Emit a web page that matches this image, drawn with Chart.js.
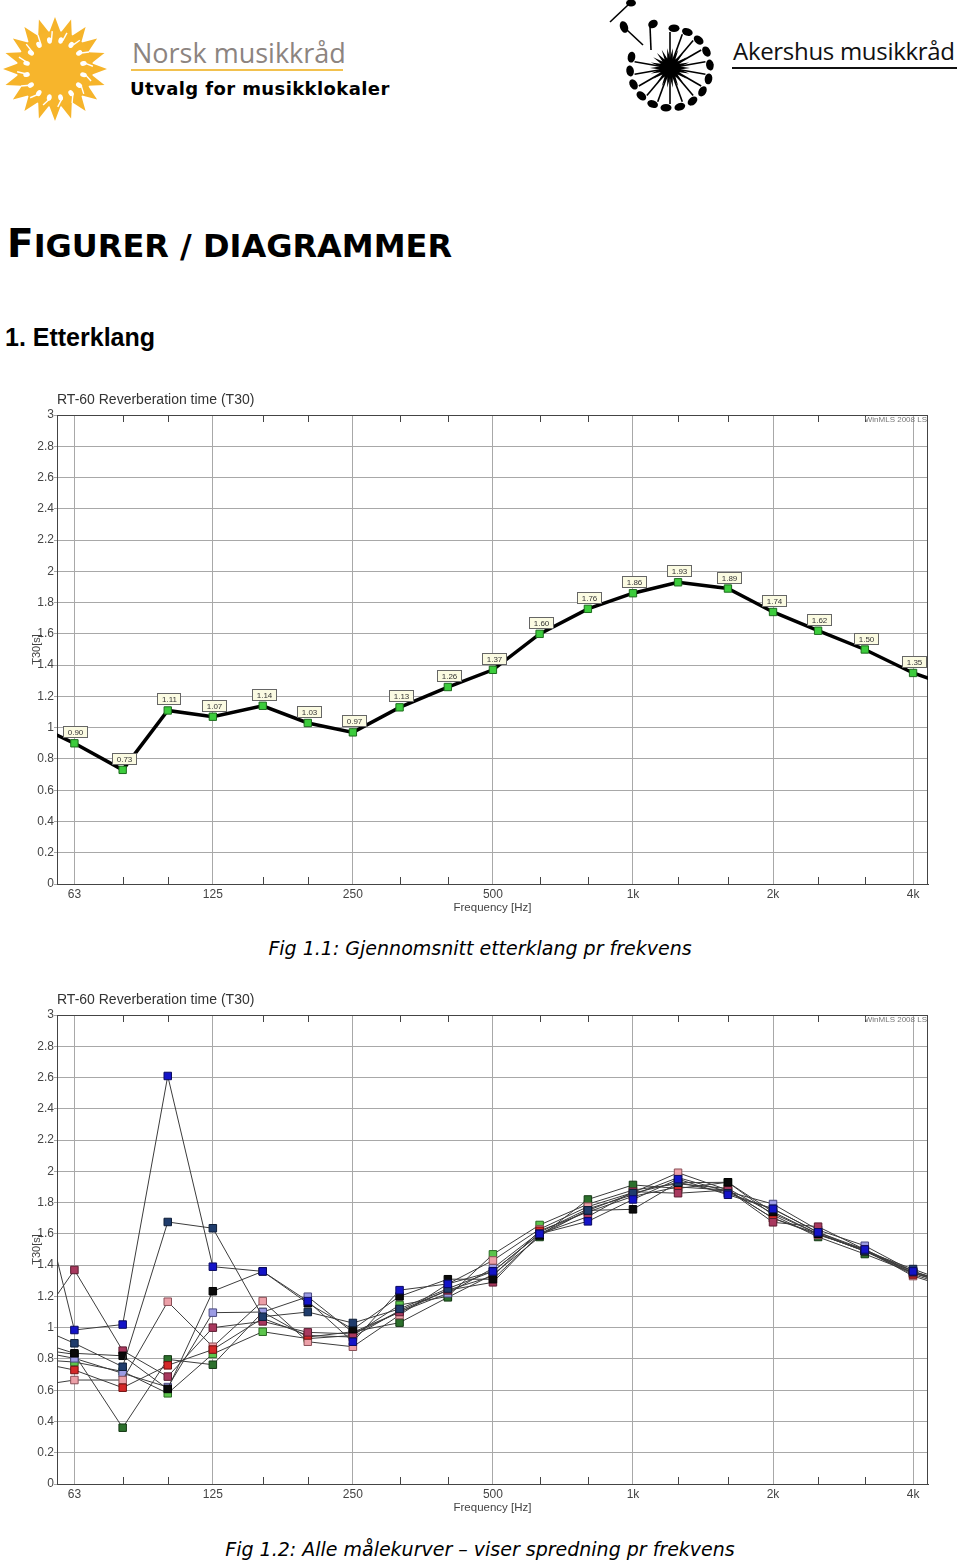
<!DOCTYPE html>
<html>
<head>
<meta charset="utf-8">
<script src="https://cdn.jsdelivr.net/npm/chart.js@4.4.1/dist/chart.umd.min.js"></script>
<style>
  html, body { margin: 0; padding: 0; background: #fff; }
  body { position: relative; width: 960px; height: 1560px; overflow: hidden; font-family: "Liberation Sans", Arial, sans-serif; }
  .abs { position: absolute; white-space: nowrap; }
  #nmr { left: 132px; top: 39px; font-family: "Open Sans", sans-serif; font-size: 27px; line-height: 27px; color: #8c8480; }
  #nmrLine { left: 131px; top: 69px; width: 212px; height: 2px; background: #f2c14e; }
  #utvalg { left: 130px; top: 80px; font-family: "DejaVu Sans", Verdana, sans-serif; font-weight: bold; font-size: 18px; line-height: 18px; letter-spacing: 0.4px; color: #000; }
  #amr { left: 733px; top: 38.7px; font-family: "Open Sans", sans-serif; font-size: 24px; line-height: 24px; letter-spacing: -0.3px; color: #111; }
  #amrLine { left: 732px; top: 67px; width: 225px; height: 2px; background: #111; }
  #heading { left: 7px; top: 224px; font-family: "DejaVu Sans", Verdana, sans-serif; font-weight: bold; font-size: 39px; line-height: 39px; color: #000; }
  #heading span { font-size: 32px; }
  #section { left: 5px; top: 325px; font-family: "Liberation Sans", Arial, sans-serif; font-weight: bold; font-size: 25px; line-height: 25px; color: #000; }
  .caption { left: 0; width: 960px; text-align: center; font-family: "DejaVu Sans", Verdana, sans-serif; font-style: italic; font-size: 19px; line-height: 19px; color: #000; }
  #cap1 { top: 939px; }
  #cap2 { top: 1540px; }
  canvas { position: absolute; left: 0; }
  #c1 { top: 385px; }
  #c2 { top: 985px; }
  svg { position: absolute; }
</style>
</head>
<body>
<svg id="sun" width="110" height="110" style="left:0;top:14px"></svg>
<div class="abs" id="nmr">Norsk musikkråd</div>
<div class="abs" id="nmrLine"></div>
<div class="abs" id="utvalg">Utvalg for musikklokaler</div>
<svg id="burst" width="120" height="112" style="left:605px;top:0"></svg>
<div class="abs" id="amr">Akershus musikkråd</div>
<div class="abs" id="amrLine"></div>

<div class="abs" id="heading">F<span>IGURER / DIAGRAMMER</span></div>
<div class="abs" id="section">1. Etterklang</div>

<canvas id="c1" width="960" height="540"></canvas>
<div class="abs caption" id="cap1">Fig 1.1: Gjennomsnitt etterklang pr frekvens</div>
<canvas id="c2" width="960" height="540"></canvas>
<div class="abs caption" id="cap2">Fig 1.2: Alle målekurver – viser spredning pr frekvens</div>

<script>
// 1/3-octave bands, 50 Hz and 5 kHz sit just outside the visible axis
const freqs = [50, 63, 80, 100, 125, 160, 200, 250, 315, 400, 500, 630, 800, 1000, 1250, 1600, 2000, 2500, 3150, 4000, 5000];
const octaveTicks = [63, 125, 250, 500, 1000, 2000, 4000];
const octaveLabels = ['63', '125', '250', '500', '1k', '2k', '4k'];

// Fig 1.1 average T30
const avgT30 = [1.04, 0.90, 0.73, 1.11, 1.07, 1.14, 1.03, 0.97, 1.13, 1.26, 1.37, 1.60, 1.76, 1.86, 1.93, 1.89, 1.74, 1.62, 1.50, 1.35, 1.25];

// Fig 1.2 individual measurements
const mBlue     = [2.20, 0.985, 1.02, 2.61, 1.39, 1.36, 1.17, 0.91, 1.24, 1.28, 1.36, 1.60, 1.68, 1.82, 1.95, 1.85, 1.76, 1.61, 1.50, 1.36, 1.26];
const mNavy     = [1.03, 0.90, 0.75, 1.676, 1.636, 1.07, 1.10, 1.03, 1.12, 1.25, 1.36, 1.60, 1.75, 1.86, 1.93, 1.86, 1.76, 1.61, 1.49, 1.375, 1.27];
const mBlack    = [0.93, 0.836, 0.82, 0.608, 1.233, 1.36, 1.156, 0.99, 1.20, 1.31, 1.31, 1.59, 1.75, 1.757, 1.927, 1.93, 1.74, 1.60, 1.49, 1.36, 1.27];
const mCrimson  = [0.94, 1.369, 0.853, 0.687, 1.00, 1.04, 0.97, 0.96, 1.10, 1.24, 1.29, 1.60, 1.71, 1.87, 1.86, 1.88, 1.674, 1.646, 1.50, 1.35, 1.27];
const mRed      = [0.79, 0.729, 0.616, 0.759, 0.86, 1.06, 0.95, 0.94, 1.11, 1.24, 1.33, 1.62, 1.74, 1.84, 1.90, 1.88, 1.70, 1.60, 1.49, 1.34, 1.25];
const mPink     = [0.62, 0.665, 0.665, 1.166, 0.878, 1.17, 0.91, 0.878, 1.081, 1.28, 1.43, 1.63, 1.774, 1.864, 1.991, 1.88, 1.70, 1.593, 1.50, 1.33, 1.24];
const mLavender = [0.86, 0.804, 0.708, 0.62, 1.096, 1.10, 1.198, 0.97, 1.10, 1.22, 1.38, 1.61, 1.76, 1.85, 1.96, 1.87, 1.791, 1.625, 1.524, 1.36, 1.27];
const mDkGreen  = [0.87, 0.83, 0.36, 0.797, 0.763, 1.10, 0.94, 0.974, 1.032, 1.194, 1.34, 1.58, 1.82, 1.913, 1.891, 1.93, 1.72, 1.58, 1.471, 1.35, 1.26];
const mLtGreen  = [0.80, 0.78, 0.72, 0.58, 0.832, 0.974, 0.93, 0.95, 1.145, 1.20, 1.469, 1.657, 1.79, 1.88, 1.92, 1.89, 1.73, 1.60, 1.49, 1.35, 1.26];

const seriesList = [mBlue, mNavy, mBlack, mCrimson, mRed, mPink, mLavender, mDkGreen, mLtGreen];
const seriesFill = ['#1414c8', '#1f3c6c', '#0a0a0a', '#a8385e', '#d42828', '#eca0a8', '#9c9ce4', '#2c702c', '#5cc44c'];
const seriesEdge = ['#0a0a60', '#0e1e38', '#000000', '#5a1c30', '#701010', '#8a5058', '#4a4a80', '#143814', '#2a6a22'];

// --- logos ---
function starPath(cx, cy, n, rOut, rIn, rot) {
  let d = '';
  for (let i = 0; i < 2 * n; i++) {
    const r = i % 2 ? rIn : rOut;
    const a = rot + i * Math.PI / n;
    d += (i ? 'L' : 'M') + (cx + r * Math.cos(a)).toFixed(1) + ' ' + (cy + r * Math.sin(a)).toFixed(1);
  }
  return d + 'Z';
}
(function drawLogos() {
  let s = '<path d="' + starPath(55, 55, 20, 52, 37, -Math.PI / 2) + '" fill="#f6b42a"/>';
  s += '<circle cx="55" cy="55" r="38" fill="#f7b52c"/>';
  for (let k = 0; k < 16; k++) {
    const a = k * Math.PI / 8 + 0.2;
    const hx = 55 + 29 * Math.cos(a), hy = 55 + 29 * Math.sin(a);
    const sx = 55 + 38 * Math.cos(a + 0.12), sy = 55 + 38 * Math.sin(a + 0.12);
    s += '<line x1="' + (hx + 2) + '" y1="' + hy + '" x2="' + sx + '" y2="' + sy + '" stroke="#fff" stroke-width="1.4"/>';
    s += '<ellipse cx="' + hx + '" cy="' + hy + '" rx="3.3" ry="2.4" fill="#fff" transform="rotate(' + (a * 180 / Math.PI) + ' ' + hx + ' ' + hy + ')"/>';
  }
  document.getElementById('sun').innerHTML = s;

  let b = '<path d="' + starPath(65, 68, 22, 20, 10, 0) + '" fill="#000"/>';
  for (let k = 0; k < 15; k++) {
    const a = (-90 + k * 20) * Math.PI / 180;
    const x1 = 65 + 10 * Math.cos(a), y1 = 68 + 10 * Math.sin(a);
    const x2 = 65 + 36 * Math.cos(a), y2 = 68 + 36 * Math.sin(a);
    const hx = 65 + 40 * Math.cos(a + 0.1), hy = 68 + 40 * Math.sin(a + 0.1);
    b += '<line x1="' + x1 + '" y1="' + y1 + '" x2="' + x2 + '" y2="' + y2 + '" stroke="#000" stroke-width="1.6"/>';
    b += '<ellipse cx="' + hx + '" cy="' + hy + '" rx="5.5" ry="3.8" fill="#000" transform="rotate(' + (a * 180 / Math.PI + 90) + ' ' + hx + ' ' + hy + ')"/>';
  }
  b += '<line x1="22" y1="30" x2="38" y2="45" stroke="#000" stroke-width="1.6"/><ellipse cx="19" cy="27" rx="4" ry="6" fill="#000" transform="rotate(-20 19 27)"/>';
  b += '<line x1="45" y1="26" x2="46" y2="50" stroke="#000" stroke-width="1.6"/><ellipse cx="48" cy="24" rx="5" ry="4" fill="#000" transform="rotate(-30 48 24)"/>';
  b += '<line x1="23" y1="5" x2="5" y2="22" stroke="#000" stroke-width="1.6"/><ellipse cx="26" cy="3" rx="5" ry="3.5" fill="#000"/>';
  document.getElementById('burst').innerHTML = b;
})();

// --- chart helpers ---
const FONT = '"Liberation Sans", Arial, sans-serif';

const framePlugin = {
  id: 'frame',
  beforeDatasetsDraw(chart) {
    const { ctx, chartArea: a, scales: { x } } = chart;
    ctx.save();
    ctx.strokeStyle = '#444';
    ctx.lineWidth = 1;
    ctx.strokeRect(a.left + 0.5, a.top + 0.5, a.right - a.left - 1, a.bottom - a.top);
    // minor 1/3-octave tick marks, top and bottom
    freqs.forEach(f => {
      if (octaveTicks.includes(f)) return;
      const px = Math.round(x.getPixelForValue(f)) + 0.5;
      if (px < a.left || px > a.right) return;
      ctx.beginPath();
      ctx.moveTo(px, a.bottom); ctx.lineTo(px, a.bottom - 7);
      ctx.moveTo(px, a.top); ctx.lineTo(px, a.top + 7);
      ctx.stroke();
    });
    ctx.fillStyle = '#777';
    ctx.font = '8px ' + FONT;
    ctx.textAlign = 'right';
    ctx.textBaseline = 'middle';
    ctx.fillText('WinMLS 2008 LS', a.right - 1, a.top + 5);
    ctx.restore();
  }
};

const valueBoxPlugin = {
  id: 'valueBoxes',
  afterDatasetsDraw(chart) {
    const { ctx, chartArea: a } = chart;
    const meta = chart.getDatasetMeta(0);
    ctx.save();
    ctx.font = '8px ' + FONT;
    ctx.textAlign = 'center';
    ctx.textBaseline = 'middle';
    ctx.lineWidth = 1;
    meta.data.forEach((pt, i) => {
      if (pt.x < a.left || pt.x > a.right) return;
      const txt = avgT30[i].toFixed(2);
      const w = Math.round(ctx.measureText(txt).width + 8), h = 11;
      const cx = Math.round(pt.x + 1), cy = Math.round(pt.y - 11);
      const l = cx - Math.round(w / 2) + 0.5, t = cy - 5.5;
      ctx.fillStyle = '#fbfbe2';
      ctx.fillRect(l, t, w, h);
      ctx.strokeStyle = '#666';
      ctx.strokeRect(l, t, w, h);
      ctx.fillStyle = '#333';
      ctx.fillText(txt, cx + 0.5, cy + 0.5);
    });
    ctx.restore();
  }
};

function makeOptions() {
  return {
    responsive: false,
    animation: false,
    devicePixelRatio: 1,
    layout: { padding: { left: 0, right: 32, top: 0, bottom: 0 } },
    plugins: {
      legend: { display: false },
      tooltip: { enabled: false },
      title: {
        display: true,
        text: 'RT-60 Reverberation time (T30)',
        align: 'start',
        fullSize: false,
        color: '#333',
        font: { family: FONT, size: 14, weight: 'normal' },
        padding: { top: 6.6, bottom: 6.6 }
      }
    },
    scales: {
      x: {
        type: 'logarithmic',
        min: 57.8,
        max: 4307,
        afterBuildTicks: s => { s.ticks = octaveTicks.map(v => ({ value: v })); },
        afterFit: s => { s.height = 41; },
        ticks: {
          autoSkip: false, maxRotation: 0, padding: 3, color: '#444',
          font: { family: FONT, size: 12 },
          callback: (v, i) => octaveLabels[i]
        },
        grid: { color: '#a8a8a8', drawTicks: false },
        border: { color: '#444' },
        title: {
          display: true, text: 'Frequency [Hz]', color: '#444',
          font: { family: FONT, size: 11.5 }, padding: { top: 0, bottom: 10 }
        }
      },
      y: {
        min: 0,
        max: 3,
        afterFit: s => { s.width = 57; },
        ticks: {
          stepSize: 0.2, padding: 0, color: '#444',
          font: { family: FONT, size: 12 },
          callback: v => String(Math.round(v * 10) / 10)
        },
        grid: { color: '#a8a8a8', drawTicks: true, tickLength: 3 },
        border: { color: '#444' },
        title: {
          display: true, text: 'T30[s]', color: '#444',
          font: { family: FONT, size: 11 }, padding: { top: 30, bottom: 0 }
        }
      }
    }
  };
}

const toPoints = arr => freqs.map((f, i) => ({ x: f, y: arr[i] }));

new Chart(document.getElementById('c1'), {
  type: 'line',
  data: {
    datasets: [{
      data: toPoints(avgT30),
      borderColor: '#000',
      borderWidth: 3.5,
      pointStyle: 'rect',
      pointRadius: 5.2,
      pointBackgroundColor: '#3ccc3c',
      pointBorderColor: '#1c6c1c',
      pointBorderWidth: 1,
      tension: 0,
      clip: 0
    }]
  },
  options: makeOptions(),
  plugins: [framePlugin, valueBoxPlugin]
});

new Chart(document.getElementById('c2'), {
  type: 'line',
  data: {
    datasets: seriesList.map((arr, k) => ({
      data: toPoints(arr),
      borderColor: '#3c3c3c',
      borderWidth: 1,
      pointStyle: 'rect',
      pointRadius: 5.3,
      pointBackgroundColor: seriesFill[k],
      pointBorderColor: seriesEdge[k],
      pointBorderWidth: 1,
      tension: 0,
      clip: 0
    }))
  },
  options: makeOptions(),
  plugins: [framePlugin]
});
</script>
</body>
</html>
